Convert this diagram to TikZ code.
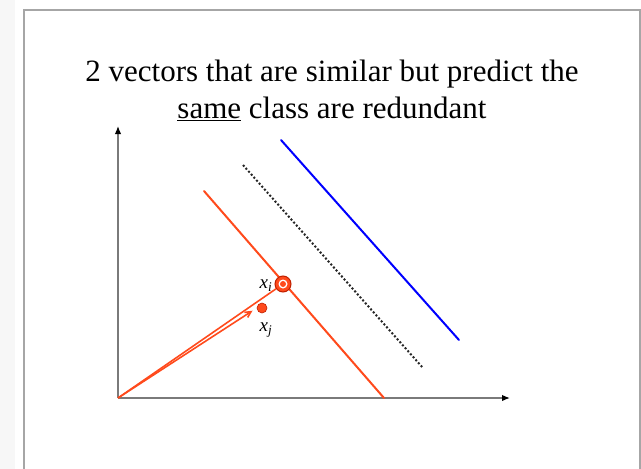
\documentclass[tikz,border=0pt]{standalone}
\usepackage{fontspec}
\setmainfont{Liberation Serif}
\usepackage{xcolor}
\usetikzlibrary{arrows.meta,positioning,calc}

\definecolor{slidered}{HTML}{FF4A1C}
\definecolor{ringred}{HTML}{C02000}
\definecolor{axisgray}{HTML}{7A7A7A}

\begin{document}
\begin{tikzpicture}[
      x=1pt, y=-1pt,
      axis/.style={draw=axisgray, line width=1.4pt, -{Latex[length=8pt,width=6.5pt,black]}},
      hyper/.style={line width=2pt, line cap=round},
      vec/.style={slidered, line width=1.6pt},
      lbl/.style={font=\fontsize{19}{19}\selectfont\itshape, inner sep=1pt},
      >=Stealth]
    \useasboundingbox (0,0) rectangle (641,469);
    % slide frame
    \fill[gray!6] (0,0) rectangle (15,469);
    \draw[gray!70, line width=1.8pt] (24,475) -- (24,10) -- (640,10) -- (640,475);
    % title
    \node[font=\fontsize{31}{37}\selectfont, align=center] (title) at (332,90)
      {2 vectors that are similar but predict the\\ \underline{same} class are redundant};
    % axes
    \coordinate (o) at (118,398);
    \coordinate (ytip) at (118,126);
    \coordinate (xtip) at (510,398);
    \draw[axis] (o) -- (ytip);
    \draw[axis] (o) -- (xtip);
    % separating lines
    \draw[hyper, slidered] (204,191) -- (384,398);
    \draw[line width=2pt, dotted, black!85] (243,165) -- (423,368);
    \draw[hyper, blue] (281,140) -- (459,340);
    % support vectors
    \node[circle, fill=slidered, draw=ringred, line width=1pt, minimum size=16pt, inner sep=0pt] (xi) at (283,284) {};
    \node[circle, fill=white, minimum size=9pt, inner sep=0pt] at (xi) {};
    \node[circle, fill=slidered, minimum size=6pt, inner sep=0pt] at (xi) {};
    \node[circle, fill=slidered, draw=ringred, line width=0.6pt, minimum size=10pt, inner sep=0pt] (xj) at (262,308) {};
    \node[lbl, left=1pt of xi, yshift=-2pt] (xilbl) {x\textsubscript{i}};
    \node[lbl, below=8pt of xj, xshift=4pt] (xjlbl) {x\textsubscript{j}};
    % vectors from the origin
    \draw[vec] (o) -- (xi);
    \draw[vec, -{Straight Barb[length=6pt,width=6pt]}] (o) -- ($(o)!0.97!(xj.west)$);
\end{tikzpicture}
\end{document}
